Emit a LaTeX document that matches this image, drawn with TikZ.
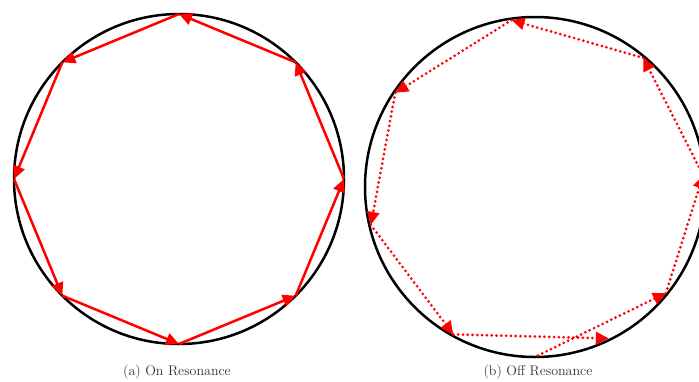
\documentclass[tikz,border=0pt]{standalone}
\usepackage{fontspec}
\usetikzlibrary{arrows.meta}
\begin{document}
\begin{tikzpicture}[x=1pt,y=-1pt,
  ring/.style={draw=black,line width=2.5pt,circle,inner sep=0pt},
  solidray/.style={draw=red,line width=2.5pt,-{Triangle[length=13pt,width=12pt]}},
  dotray/.style={draw=red,line width=3pt,dash pattern=on 0pt off 4.8pt,line cap=round,-{Triangle[length=13pt,width=12pt]}},
  capt/.style={font=\fontsize{14}{16}\selectfont\addfontfeatures{LetterSpace=8},text=black!80,inner sep=0pt}]
\useasboundingbox (0,0) rectangle (699,381);
% left circle: on resonance
\node[ring,minimum size=330pt] (ca) at (179,179) {};
\foreach \k in {0,...,7}
  \coordinate (a\k) at ([shift={({90+45*\k}:165pt)}]179,179);
\foreach \k [evaluate=\k as \n using {int(mod(\k+1,8))}] in {0,...,7}
  \draw[solidray] (a\k) -- (a\n);
% right circle: off resonance
\node[ring,minimum size=340pt] (cb) at (535,187) {};
\foreach \ang [count=\k from 0] in {-89,-39,4,50,98,146,193,241,296}
  \coordinate (b\k) at ([shift={(\ang:168.5pt)}]535,187);
\foreach \k [evaluate=\k as \n using {int(\k+1)}] in {0,...,7}
  \draw[dotray] (b\k) -- (b\n);
% captions
\node[capt] (la) at (177,372) {(a) On Resonance};
\node[capt] (lb) at (538,372) {(b) Off Resonance};
\end{tikzpicture}
\end{document}
